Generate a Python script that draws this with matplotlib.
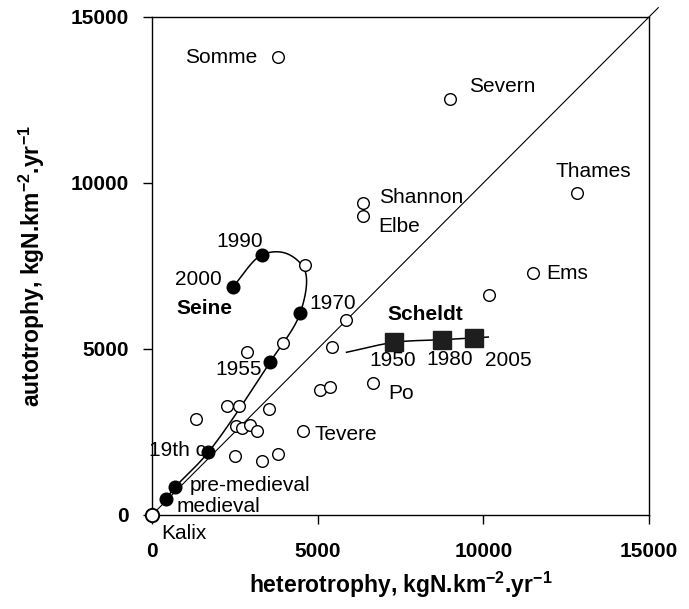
import matplotlib
matplotlib.use("Agg")
import matplotlib.pyplot as plt
import numpy as np

plt.rcParams['font.family'] = ['Liberation Sans', 'DejaVu Sans']
plt.rcParams['mathtext.fontset'] = 'custom'
plt.rcParams['mathtext.rm'] = 'Liberation Sans'
plt.rcParams['mathtext.bf'] = 'Liberation Sans:bold'
plt.rcParams['mathtext.default'] = 'bf'

# ---------------- data (kgN/km2/yr) ----------------
# unlabelled rivers (open circles)
other_x = [5850, 3960, 2860, 5420, 5070, 5370, 2250, 2640, 3540, 1330,
           2535, 2710, 2950, 3160, 2505, 3310, 3810, 4620, 10180]
other_y = [5870, 5170, 4900, 5070, 3765, 3845, 3280, 3280, 3190, 2890,
           2680, 2630, 2710, 2540, 1790, 1620, 1850, 7530, 6630]

# labelled rivers (open circles)
river_names = ["Somme", "Severn", "Thames", "Shannon", "Elbe", "Ems", "Po", "Tevere", "Kalix"]
river_x = [3810, 8990, 12820, 6380, 6380, 11510, 6680, 4570, 0]
river_y = [13790, 12520, 9710, 9400, 9010, 7280, 3965, 2540, 0]

# Seine historical trajectory (filled circles)
seine_labels = ["medieval", "pre-medieval", "19th c", "1955", "1970", "1990", "2000"]
seine_x = [420, 690, 1700, 3560, 4470, 3310, 2450]
seine_y = [480, 830, 1890, 4600, 6075, 7830, 6880]
# Seine trajectory line, nodes
seine_path_x = [420, 690, 1700, 3560, 4470, 4620, 4050, 3310, 2450]
seine_path_y = [480, 830, 1890, 4600, 6075, 7350, 7880, 7830, 6880]

# Scheldt trajectory (filled squares)
scheldt_labels = ["1950", "1980", "2005"]
scheldt_x = [7310, 8760, 9730]
scheldt_y = [5200, 5280, 5330]
scheldt_path_x = [5870, 7310, 8760, 9730, 10150]
scheldt_path_y = [4900, 5200, 5280, 5330, 5360]

# 1:1 line extent
diag = [0, 15280]

ticks = [0, 5000, 10000, 15000]
xlabel = r"heterotrophy, kgN.km$^{-2}$.yr$^{-1}$"
ylabel = r"autotrophy, kgN.km$^{-2}$.yr$^{-1}$"

# ---------------- label placement (offset points) ----------------
river_offsets = {
    "Somme": ((-15, 0), 'right', 'center'),
    "Severn": ((14, 9), 'left', 'center'),
    "Thames": ((12, 15), 'center', 'center'),
    "Shannon": ((11, 4), 'left', 'center'),
    "Elbe": ((11, -8), 'left', 'center'),
    "Ems": ((9, 0), 'left', 'center'),
    "Po": ((11, -7), 'left', 'center'),
    "Tevere": ((8, -2.5), 'left', 'center'),
    "Kalix": ((7, -13), 'left', 'center'),
}
seine_offsets = {
    "medieval": ((8, -5.5), 'left', 'center'),
    "pre-medieval": ((11, 1.5), 'left', 'center'),
    "19th c": ((-2, 1.5), 'right', 'center'),
    "1955": ((-6, -5.5), 'right', 'center'),
    "1970": ((7, 7), 'left', 'center'),
    "1990": ((1, 9.6), 'right', 'center'),
    "2000": ((-8.4, 5.3), 'right', 'center'),
}
scheldt_offsets = {
    "1950": ((-1.3, -13), 'center', 'center'),
    "1980": ((5.7, -14.4), 'center', 'center'),
    "2005": ((24.8, -16), 'center', 'center'),
}


def catmull_rom(xs, ys, n=40, alpha=0.5):
    P = np.column_stack([xs, ys]).astype(float)
    P = np.vstack([2 * P[0] - P[1], P, 2 * P[-1] - P[-2]])
    out = []
    for i in range(1, len(P) - 2):
        p0, p1, p2, p3 = P[i - 1], P[i], P[i + 1], P[i + 2]
        t0 = 0.0
        t1 = t0 + np.linalg.norm(p1 - p0) ** alpha
        t2 = t1 + np.linalg.norm(p2 - p1) ** alpha
        t3 = t2 + np.linalg.norm(p3 - p2) ** alpha
        t = np.linspace(t1, t2, n)[:, None]
        A1 = (t1 - t) / (t1 - t0) * p0 + (t - t0) / (t1 - t0) * p1
        A2 = (t2 - t) / (t2 - t1) * p1 + (t - t1) / (t2 - t1) * p2
        A3 = (t3 - t) / (t3 - t2) * p2 + (t - t2) / (t3 - t2) * p3
        B1 = (t2 - t) / (t2 - t0) * A1 + (t - t0) / (t2 - t0) * A2
        B2 = (t3 - t) / (t3 - t1) * A2 + (t - t1) / (t3 - t1) * A3
        C = (t2 - t) / (t2 - t1) * B1 + (t - t1) / (t2 - t1) * B2
        out.append(C)
    C = np.vstack(out)
    return C[:, 0], C[:, 1]


fig = plt.figure(figsize=(6.89, 6.09), dpi=100)
ax = fig.add_axes([0.2206, 0.1544, 0.7213, 0.8177])

# 1:1 line
ax.plot(diag, diag, color='black', lw=0.8, clip_on=False, zorder=1)

# trajectories
sx, sy = catmull_rom(seine_path_x, seine_path_y)
ax.plot(sx, sy, color='black', lw=1.1, zorder=2)
cx, cy = catmull_rom(scheldt_path_x, scheldt_path_y)
ax.plot(cx, cy, color='black', lw=1.1, zorder=2)

# open circles
ax.plot(other_x, other_y, 'o', ms=8.4, mfc='white', mec='black', mew=1.0, zorder=3, clip_on=False)
ax.plot(river_x[:-1], river_y[:-1], 'o', ms=8.4, mfc='white', mec='black', mew=1.0, zorder=3, clip_on=False)
ax.plot(river_x[-1:], river_y[-1:], 'o', ms=9.6, mfc='white', mec='black', mew=1.4, zorder=5, clip_on=False)

# filled
ax.plot(seine_x, seine_y, 'o', ms=9.1, mfc='black', mec='black', zorder=4)
ax.plot(scheldt_x, scheldt_y, 's', ms=13.5, mfc='#1e1e1e', mec='#1e1e1e', zorder=4)

fs = 15
for name, x, y in zip(river_names, river_x, river_y):
    (dx, dy), ha, va = river_offsets[name]
    ax.annotate(name, (x, y), xytext=(dx, dy), textcoords='offset points',
                ha=ha, va=va, fontsize=fs, zorder=6, annotation_clip=False)
for name, x, y in zip(seine_labels, seine_x, seine_y):
    (dx, dy), ha, va = seine_offsets[name]
    ax.annotate(name, (x, y), xytext=(dx, dy), textcoords='offset points',
                ha=ha, va=va, fontsize=fs, zorder=2.5, annotation_clip=False)
for name, x, y in zip(scheldt_labels, scheldt_x, scheldt_y):
    (dx, dy), ha, va = scheldt_offsets[name]
    ax.annotate(name, (x, y), xytext=(dx, dy), textcoords='offset points',
                ha=ha, va=va, fontsize=fs, zorder=6)

# series names
ax.annotate("Seine", (seine_x[-1], seine_y[-1]), xytext=(-41, -15.5), textcoords='offset points',
            ha='left', va='center', fontsize=fs, fontweight='bold')
ax.annotate("Scheldt", (scheldt_x[0], scheldt_y[0]), xytext=(-5, 20), textcoords='offset points',
            ha='left', va='center', fontsize=fs, fontweight='bold')

ax.set_xlim(0, 15000)
ax.set_ylim(0, 15000)
ax.set_xticks(ticks)
ax.set_yticks(ticks)
ax.set_xticklabels([str(t) for t in ticks], fontweight='bold', fontsize=15)
ax.set_yticklabels([str(t) for t in ticks], fontweight='bold', fontsize=15)
ax.tick_params(axis='x', direction='out', length=6.5, width=1, pad=13)
ax.tick_params(axis='y', direction='out', length=6.5, width=1, pad=10)
for s in ax.spines.values():
    s.set_linewidth(1.0)
    s.set_color('black')

ax.set_xlabel(xlabel, fontsize=16.5, fontweight='bold', va='center')
ax.set_ylabel(ylabel, fontsize=16.5, fontweight='bold', va='center')
ax.xaxis.set_label_coords(0.5, -0.1406)
ax.yaxis.set_label_coords(-0.2414, 0.5)

fig.savefig("out.png", dpi=100)
